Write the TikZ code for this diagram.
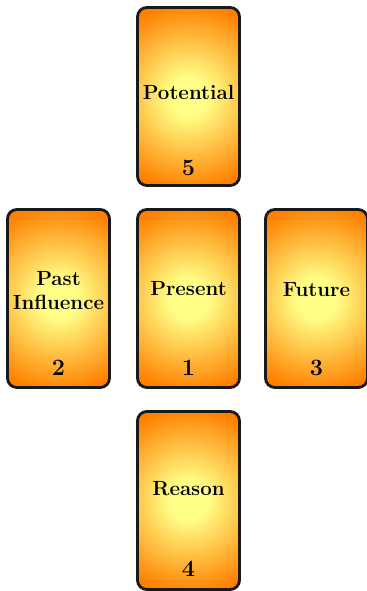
\documentclass[tikz,border=0pt]{standalone}
\usetikzlibrary{positioning, calc}
\definecolor{cardyellow}{RGB}{255, 255, 135}
\definecolor{cardorange}{RGB}{255, 128, 0}
\definecolor{cardedge}{RGB}{25, 25, 25}
\pgfdeclareradialshading{cardglow}{\pgfpoint{0bp}{0bp}}{%
  color(0bp)=(cardyellow); color(5bp)=(cardyellow); color(25bp)=(cardorange); color(50bp)=(cardorange)}

\begin{document}
\begin{tikzpicture}[
  card/.style={draw=cardedge, fill=cardorange, line width=2.4pt, rounded corners=8pt, minimum width=3.06cm, minimum height=5.34cm, inner sep=0pt,
    path picture={\shade[shading=cardglow] (path picture bounding box.center) circle (2.8cm);}},
  cardtitle/.style={anchor=base, align=center, inner sep=0pt, font=\fontsize{17.5}{20.4}\selectfont\bfseries},
  cardnum/.style={anchor=base, inner sep=0pt, font=\fontsize{20}{22}\selectfont\bfseries}
]
  \useasboundingbox (0, 0) rectangle (11.01, 17.73);

  % the five cards
  \node[card] (potential) at (5.655, 14.835) {};
  \node[card] (past) at (1.755, 8.775) {};
  \node[card] (present) at (5.655, 8.775) {};
  \node[card] (future) at (9.495, 8.775) {};
  \node[card] (reason) at (5.655, 2.715) {};

  % titles
  \node[cardtitle] (potentialT) at ($(potential.center)+(0, -0.1)$) {Potential};
  \node[cardtitle] (pastT) at ($(past.center)+(0, -0.32)$) {Past\\Influence};
  \node[cardtitle] (presentT) at ($(present.center)+(0, 0.1)$) {Present};
  \node[cardtitle] (futureT) at ($(future.center)+(0, 0.07)$) {Future};
  \node[cardtitle] (reasonT) at ($(reason.center)+(0, 0.16)$) {Reason};

  % numbers
  \node[cardnum] (potentialN) at ($(potential.south)+(0, 0.33)$) {5};
  \node[cardnum] (pastN) at ($(past.south)+(0, 0.4)$) {2};
  \node[cardnum] (presentN) at ($(present.south)+(0, 0.4)$) {1};
  \node[cardnum] (futureN) at ($(future.south)+(0, 0.4)$) {3};
  \node[cardnum] (reasonN) at ($(reason.south)+(0, 0.42)$) {4};
\end{tikzpicture}
\end{document}
